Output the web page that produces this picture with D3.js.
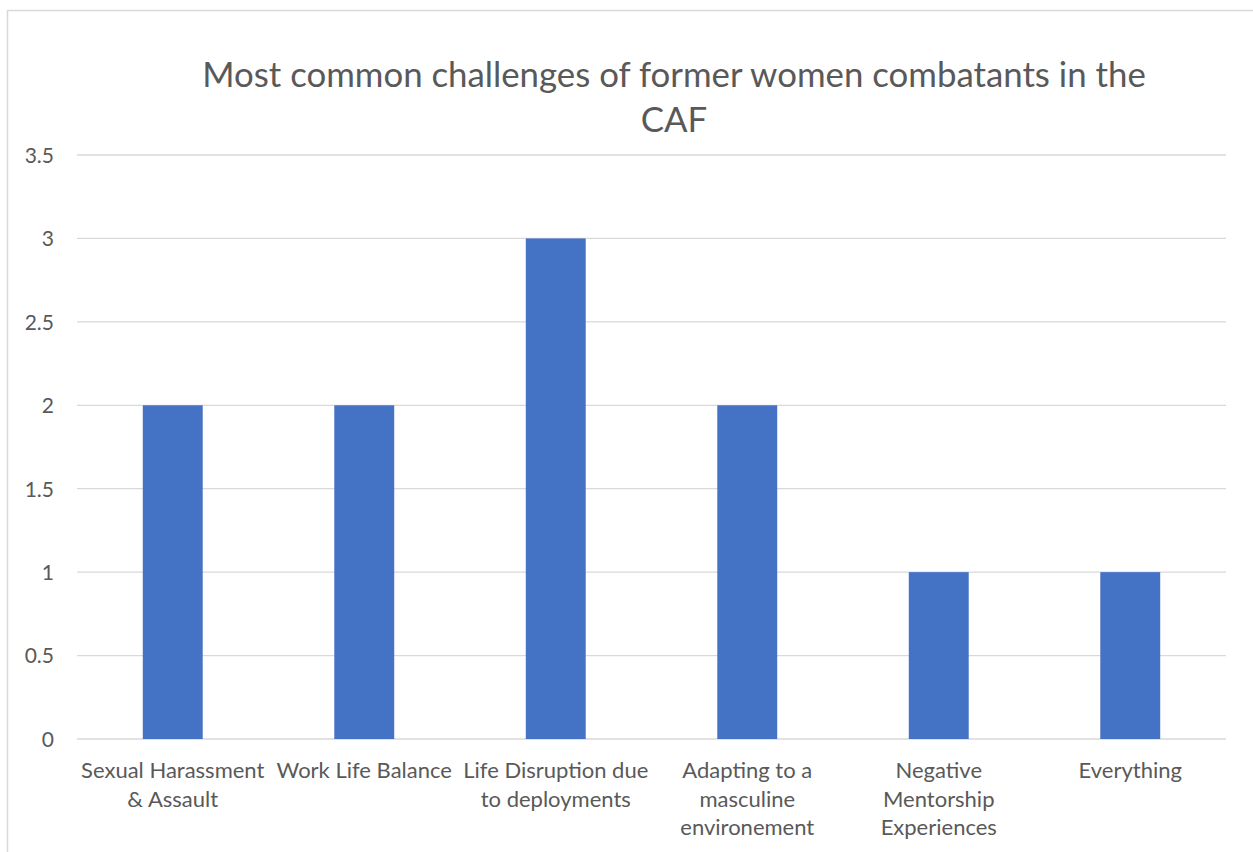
<!DOCTYPE html>
<html>
<head>
<meta charset="utf-8">
<script src="https://cdn.jsdelivr.net/npm/d3@7"></script>
<style>
  html, body { margin: 0; padding: 0; background: #fff; overflow: hidden; }
  svg { display: block; }
  text { font-family: Lato, "Open Sans", sans-serif; fill: #595959; }
</style>
</head>
<body>
<svg id="chart" width="1253" height="852"></svg>
<script>
// Chart data
const categories = [
  ["Sexual Harassment", "& Assault"],
  ["Work Life Balance"],
  ["Life Disruption due", "to deployments"],
  ["Adapting to a", "masculine", "environement"],
  ["Negative", "Mentorship", "Experiences"],
  ["Everything"]
];
const values = [2, 2, 3, 2, 1, 1];
const yTicks = [0, 0.5, 1, 1.5, 2, 2.5, 3, 3.5];
const titleLines = ["Most common challenges of former women combatants in the", "CAF"];

const svg = d3.select("#chart");
const W = 1253, H = 852;
const plot = { left: 77, right: 1226, top: 155, bottom: 739 };

// Chart border
svg.append("rect")
  .attr("x", 7.5).attr("y", 10.5)
  .attr("width", W + 20).attr("height", H + 20)
  .attr("fill", "none").attr("stroke", "#d9d9d9").attr("stroke-width", 1.5);

const keys = categories.map((c, i) => "c" + i);
const x = d3.scaleBand().domain(keys).range([plot.left, plot.right]).paddingInner(0.687).paddingOuter(0.3435);
const y = d3.scaleLinear().domain([0, 3.5]).range([plot.bottom, plot.top]);

// Gridlines
svg.append("g").selectAll("line").data(yTicks).join("line")
  .attr("x1", plot.left).attr("x2", plot.right)
  .attr("y1", d => y(d)).attr("y2", d => y(d))
  .attr("stroke", "#d9d9d9").attr("stroke-width", 1.3);

// Y axis labels
const yAxis = d3.axisLeft(y).tickValues(yTicks).tickSize(0).tickPadding(0).tickFormat(d3.format("~g"));
const yg = svg.append("g").attr("transform", `translate(${plot.left - 23},0)`).call(yAxis);
yg.select(".domain").remove();
yg.selectAll("text").attr("font-size", 21).attr("font-family", "Lato, 'Open Sans', sans-serif").attr("fill", "#595959").attr("dy", "0.35em");

// Bars
svg.append("g").selectAll("rect").data(values).join("rect")
  .attr("x", (d, i) => x(keys[i]))
  .attr("width", x.bandwidth())
  .attr("y", d => y(d))
  .attr("height", d => y(0) - y(d))
  .attr("fill", "#4472c4");

// Category labels
const xg = svg.append("g");
categories.forEach((lines, i) => {
  const cx = x(keys[i]) + x.bandwidth() / 2;
  const t = xg.append("text")
    .attr("text-anchor", "middle")
    .attr("font-size", 22);
  lines.forEach((ln, j) => {
    t.append("tspan").attr("x", cx).attr("y", 778 + j * 28.5).text(ln);
  });
});

// Title
const tt = svg.append("text").attr("text-anchor", "middle").attr("font-size", 34.8);
titleLines.forEach((ln, j) => {
  tt.append("tspan").attr("x", 674).attr("y", 87 + j * 45).text(ln);
});
</script>
</body>
</html>
